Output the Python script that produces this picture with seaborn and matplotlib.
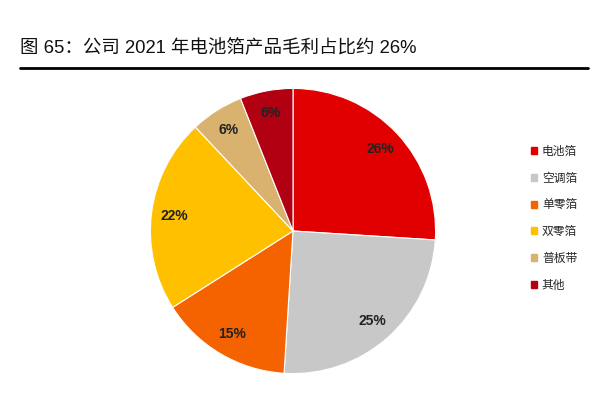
import matplotlib
matplotlib.use("Agg")
import matplotlib.pyplot as plt
import matplotlib.patches as mpatches
import seaborn as sns

# data
categories = ["电池箔", "空调箔", "单零箔", "双零箔", "普板带", "其他"]
shares = [26, 25, 15, 22, 6, 6]
colors = ["#E00000", "#C8C8C8", "#F56200", "#FFC000", "#D9B26F", "#B00012"]

sns.set_theme(style="white")
plt.rcParams["font.family"] = ["Liberation Sans", "Noto Sans CJK SC", "DejaVu Sans"]

fig = plt.figure(figsize=(6.07, 3.98), dpi=100)

# title + rule
fig.text(20 / 607, 1 - 48 / 398, "图 65：公司 2021 年电池箔产品毛利占比约 26%",
         fontsize=13.3, va="center", ha="left", color="#111111")
fig.add_artist(plt.Line2D([20 / 607, 588 / 607], [1 - 68 / 398, 1 - 68 / 398],
                          color="black", lw=2))

# pie
R = 144
cx, cy = 293, 231
ax = fig.add_axes([(cx - R) / 607, (398 - cy - R) / 398, 2 * R / 607, 2 * R / 398])
pal = sns.color_palette(colors)
wedges, texts, autotexts = ax.pie(
    shares, colors=pal, startangle=90, counterclock=False,
    autopct="%d%%", pctdistance=0.84,
    wedgeprops=dict(edgecolor="white", linewidth=0.8),
    textprops=dict(fontsize=10, fontweight="bold", color="#222222"),
)
ax.set_xlim(-1.01, 1.01)
ax.set_ylim(-1.01, 1.01)
ax.set_aspect("equal")

# legend
handles = [mpatches.Patch(color=c, label=n) for c, n in zip(pal, categories)]
fig.legend(handles=handles, loc="upper left",
           bbox_to_anchor=(526 / 607, 1 - 141 / 398),
           frameon=False, fontsize=8.5, handlelength=0.55, handleheight=0.55,
           handletextpad=0.4, labelspacing=1.25, borderaxespad=0)

fig.savefig("out.png", dpi=100)
